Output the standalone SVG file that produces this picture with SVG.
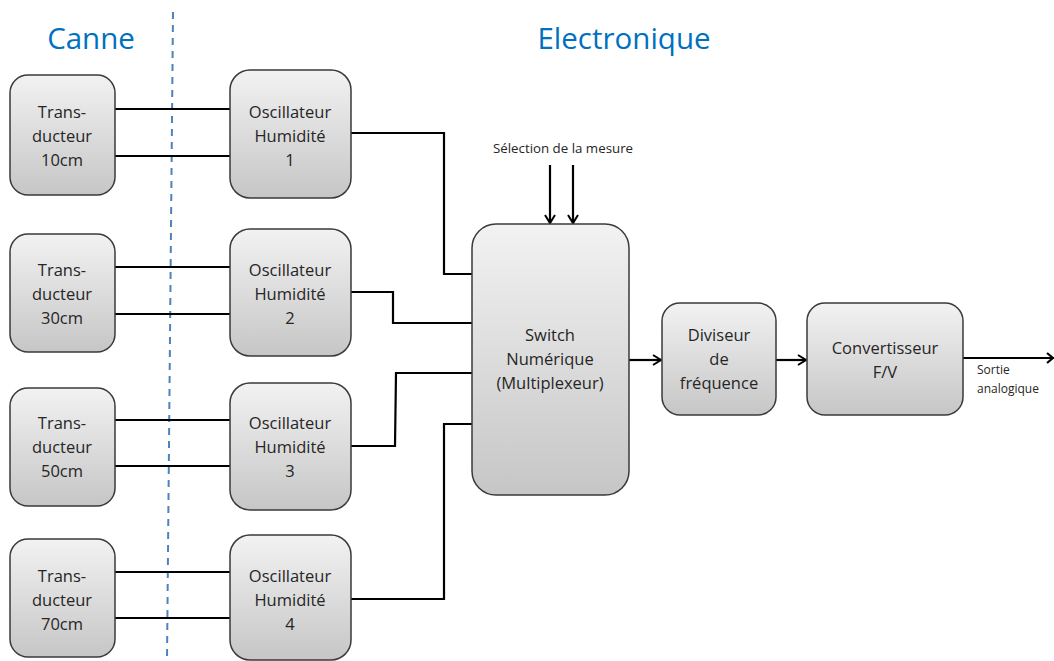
<svg xmlns="http://www.w3.org/2000/svg" width="1054" height="661" viewBox="0 0 1054 661">
<defs>
<linearGradient id="g" x1="0" y1="0" x2="0" y2="1">
<stop offset="0" stop-color="#f2f2f2"/>
<stop offset="1" stop-color="#c6c6c6"/>
</linearGradient>
<marker id="ah" markerWidth="12" markerHeight="12" refX="10" refY="6" orient="auto" markerUnits="userSpaceOnUse">
<path d="M2,1 L10,6 L2,11" fill="none" stroke="#000" stroke-width="2"/>
</marker>
</defs>
<style>
.box{fill:url(#g);stroke:#3a3a3a;stroke-width:1.5}
.t{font-family:"Open Sans","Liberation Sans",sans-serif;font-size:16.5px;fill:#262626;text-anchor:middle}
.s{font-family:"Open Sans","Liberation Sans",sans-serif;font-size:12px;fill:#262626}
.h{font-family:"Open Sans","Liberation Sans",sans-serif;font-size:29.5px;fill:#0070c0;text-anchor:middle}
.w{fill:none;stroke:#000;stroke-width:2.2}
</style>
<rect width="1054" height="661" fill="#fff"/>
<text class="h" x="91" y="49">Canne</text>
<text class="h" x="624" y="49">Electronique</text>
<line x1="173" y1="12" x2="167" y2="661" stroke="#4f81bd" stroke-width="2" stroke-dasharray="7,6"/>
<g id="connectors">
<path class="w" d="M115,109 H230 M115,156 H230"/>
<path class="w" d="M115,267 H230 M115,314 H230"/>
<path class="w" d="M115,420 H230 M115,466 H230"/>
<path class="w" d="M115,572 H230 M115,618 H230"/>
<path class="w" d="M351,133 H444 V274 H472"/>
<path class="w" d="M351,292 H393 V323 H472"/>
<path class="w" d="M351,446 H395 L396,373 H472"/>
<path class="w" d="M351,599 H444 V424 H472"/>
<path class="w" d="M550,165 V223" marker-end="url(#ah)"/>
<path class="w" d="M573,165 V223" marker-end="url(#ah)"/>
<path class="w" d="M629,360 H661" marker-end="url(#ah)"/>
<path class="w" d="M776,360 H806" marker-end="url(#ah)"/>
<path class="w" d="M963,358 H1054"/>
<path class="w" d="M1047,353 L1053,358 L1047,363"/>
</g>
<text class="s" x="563" y="153" text-anchor="middle" style="font-size:13.3px">Sélection de la mesure</text>
<text class="s" x="977" y="374">Sortie</text>
<text class="s" x="977" y="393">analogique</text>
<g id="t1"><rect class="box" x="10" y="75" width="105" height="120" rx="18"/>
<text class="t" x="62" y="118">Trans-</text><text class="t" x="62" y="142">ducteur</text><text class="t" x="62" y="166">10cm</text></g>
<g id="t2"><rect class="box" x="10" y="234" width="105" height="118" rx="18"/>
<text class="t" x="62" y="276">Trans-</text><text class="t" x="62" y="300">ducteur</text><text class="t" x="62" y="324">30cm</text></g>
<g id="t3"><rect class="box" x="10" y="388" width="105" height="118" rx="18"/>
<text class="t" x="62" y="429">Trans-</text><text class="t" x="62" y="453">ducteur</text><text class="t" x="62" y="477">50cm</text></g>
<g id="t4"><rect class="box" x="10" y="539" width="105" height="118" rx="18"/>
<text class="t" x="62" y="582">Trans-</text><text class="t" x="62" y="606">ducteur</text><text class="t" x="62" y="630">70cm</text></g>
<g id="o1"><rect class="box" x="230" y="70" width="121" height="128" rx="20"/>
<text class="t" x="290" y="118">Oscillateur</text><text class="t" x="290" y="142">Humidité</text><text class="t" x="290" y="166">1</text></g>
<g id="o2"><rect class="box" x="230" y="229" width="121" height="127" rx="20"/>
<text class="t" x="290" y="276">Oscillateur</text><text class="t" x="290" y="300">Humidité</text><text class="t" x="290" y="324">2</text></g>
<g id="o3"><rect class="box" x="230" y="383" width="121" height="127" rx="20"/>
<text class="t" x="290" y="429">Oscillateur</text><text class="t" x="290" y="453">Humidité</text><text class="t" x="290" y="477">3</text></g>
<g id="o4"><rect class="box" x="230" y="535" width="121" height="125" rx="20"/>
<text class="t" x="290" y="582">Oscillateur</text><text class="t" x="290" y="606">Humidité</text><text class="t" x="290" y="630">4</text></g>
<g id="sw"><rect class="box" x="472" y="224" width="157" height="271" rx="24"/>
<text class="t" x="550" y="341">Switch</text><text class="t" x="550" y="365">Numérique</text><text class="t" x="550" y="389">(Multiplexeur)</text></g>
<g id="div"><rect class="box" x="662" y="303" width="114" height="112" rx="18"/>
<text class="t" x="719" y="341">Diviseur</text><text class="t" x="719" y="365">de</text><text class="t" x="719" y="389">fréquence</text></g>
<g id="conv"><rect class="box" x="807" y="303" width="156" height="112" rx="18"/>
<text class="t" x="885" y="354">Convertisseur</text><text class="t" x="885" y="378">F/V</text></g>
</svg>
